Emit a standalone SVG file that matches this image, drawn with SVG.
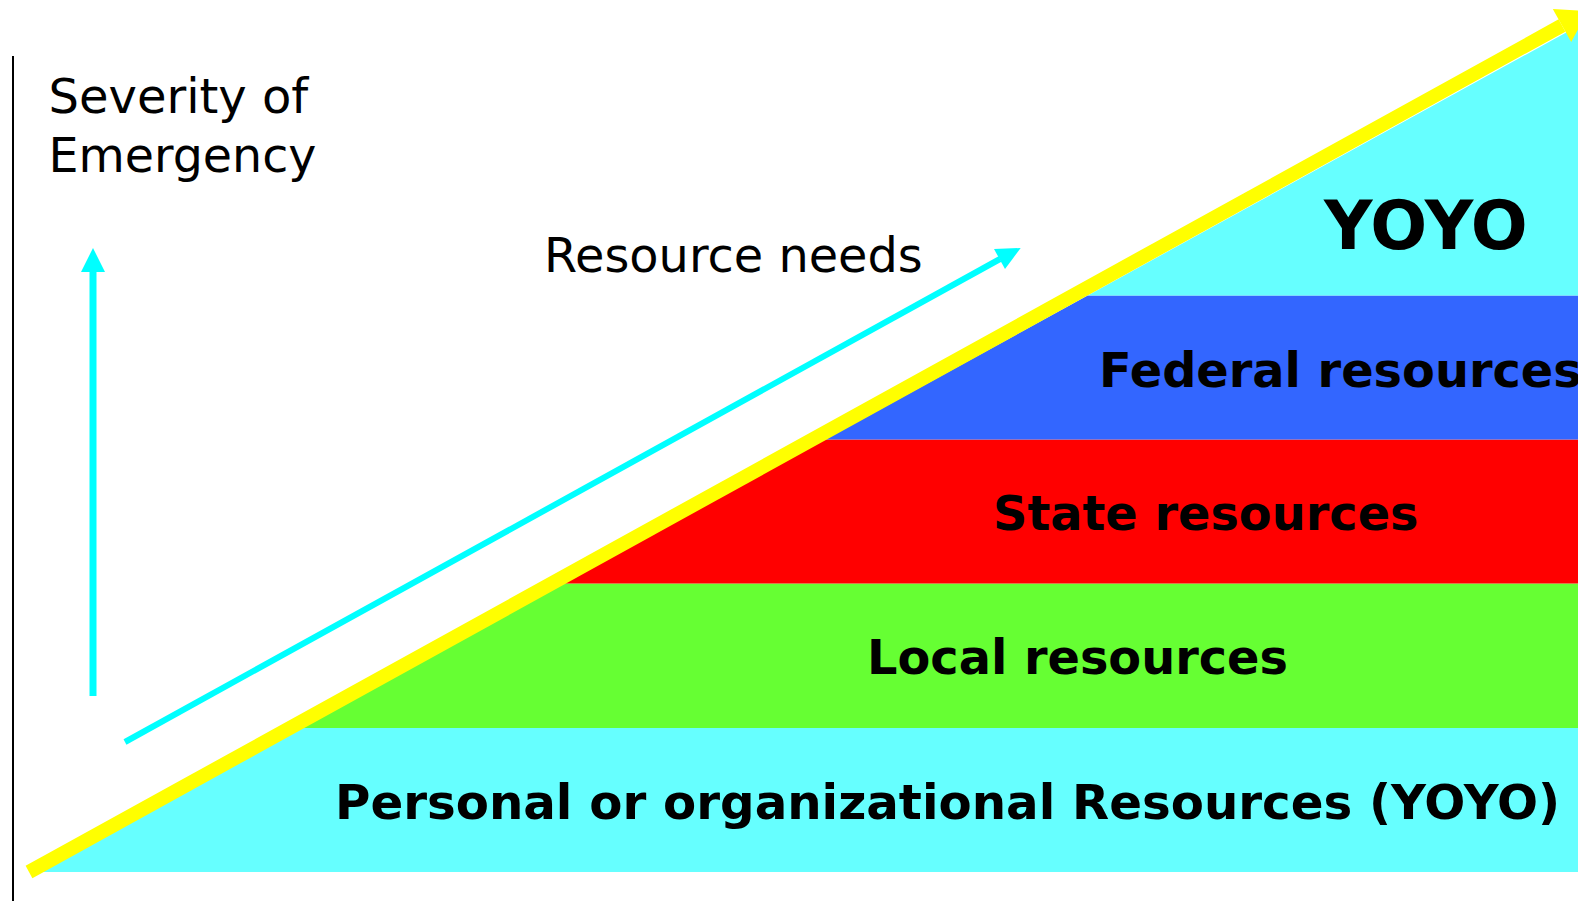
<svg xmlns="http://www.w3.org/2000/svg" width="1578" height="901" viewBox="0 0 1578 901">
<style>
.lbl{font-family:"DejaVu Sans","Verdana",sans-serif;fill:#000}
.bold{font-family:"DejaVu Sans","Verdana",sans-serif;font-weight:bold;fill:#000}
.cy{fill:#00FFFF}
</style>
<rect width="1578" height="901" fill="#fff"/>
<g id="axis"><line x1="13" y1="56" x2="13" y2="901" stroke="#000" stroke-width="2"/></g>
<g id="band-personal"><polygon points="41,872 302.7,728 1578,728 1578,872" fill="#66FFFF"/>
<text class="bold" x="335" y="819" font-size="48.3">Personal or organizational Resources (YOYO)</text></g>
<g id="band-local"><polygon points="302.7,728 563.5,583.5 1578,583.5 1578,728" fill="#66FF33"/>
<text class="bold" x="867" y="674" font-size="47.8">Local resources</text></g>
<g id="band-state"><polygon points="563.5,583.5 825,439.5 1578,439.5 1578,583.5" fill="#FF0000"/>
<text class="bold" x="993" y="530" font-size="47.8">State resources</text></g>
<g id="band-federal"><polygon points="825,439.5 1087.7,295.5 1578,295.5 1578,439.5" fill="#3366FF"/>
<text class="bold" x="1099" y="387" font-size="47.8">Federal resources</text></g>
<g id="band-yoyo"><polygon points="1087.7,295.5 1578,26 1578,295.5" fill="#66FFFF"/>
<text class="bold" x="1324" y="249" font-size="67">YOYO</text></g>
<g id="title"><text class="lbl" x="48.5" y="113" font-size="48">Severity of</text>
<text class="lbl" x="48.5" y="172" font-size="47.5">Emergency</text></g>
<g id="resource-label"><text class="lbl" x="544" y="272" font-size="47.8">Resource needs</text></g>
<g id="connectors">
<line x1="29" y1="872" x2="1562" y2="25.5" stroke="#FFFF00" stroke-width="14"/>
<polygon points="1588,11 1571.2,42.1 1552.8,8.9" fill="#FFFF00"/>
<line x1="125" y1="742" x2="1000" y2="259" stroke="#00FFFF" stroke-width="6"/>
<polygon class="cy" points="1020.7,248 1005,269 994,249"/>
<line x1="93" y1="696" x2="93" y2="270" stroke="#00FFFF" stroke-width="7"/>
<polygon class="cy" points="93,248 81,272 105,272"/>
</g>
</svg>
